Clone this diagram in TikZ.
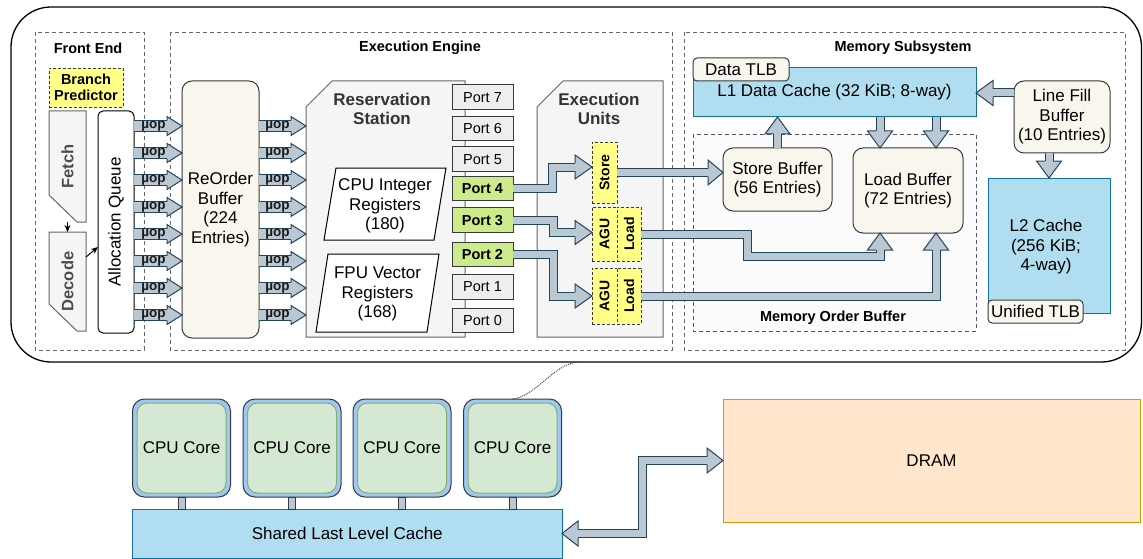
\documentclass[tikz,border=0pt]{standalone}
\usepackage{fontspec}
\setmainfont{Liberation Sans}
\usetikzlibrary{calc,arrows.meta}

\definecolor{flexfill}{HTML}{BAC8D3}
\definecolor{flexline}{HTML}{23445D}
\definecolor{darkline}{HTML}{36393D}
\definecolor{groupline}{HTML}{666666}
\definecolor{portgraycol}{HTML}{EEEEEE}
\definecolor{portgreencol}{HTML}{CDEB8B}
\definecolor{beige}{HTML}{F9F7ED}
\definecolor{panelfill}{HTML}{F5F5F5}
\definecolor{panelline}{HTML}{666666}
\definecolor{paneltext}{HTML}{333333}
\definecolor{stagetextcol}{HTML}{4D4D4D}
\definecolor{notefill}{HTML}{FFFF88}
\definecolor{cachefill}{HTML}{B1DDF0}
\definecolor{cacheline}{HTML}{10739E}
\definecolor{mobline}{HTML}{56517E}
\definecolor{mobfill}{HTML}{FBFBFB}
\definecolor{coreblue}{HTML}{A0C6F2}
\definecolor{coregreen}{HTML}{D5E8D4}
\definecolor{coregreenline}{HTML}{82B366}
\definecolor{dramfill}{HTML}{FFE6CC}
\definecolor{dramline}{HTML}{D79B00}
\definecolor{uoptext}{HTML}{1A1A1A}

\newcommand{\txtbig}{\fontsize{17}{19.5}\selectfont}
\newcommand{\txtmid}{\fontsize{14.5}{17}\selectfont}
\newcommand{\txtuop}{\fontsize{13.5}{15}\selectfont\bfseries}

% arrow head of a wide "flex" arrow: tip, direction, body half width, head half width, head length
\newcommand{\flexhead}[5]{%
  \begin{scope}[shift={#1},rotate=#2]
    \fill[flexfill] (0,0) -- (-#5,#4) -- (-#5,-#4) -- cycle;
    \draw[flexline,line width=1pt,line join=miter] (-#5,#3) -- (-#5,#4) -- (0,0) -- (-#5,-#4) -- (-#5,-#3);
  \end{scope}}

\begin{document}
\begin{tikzpicture}[x=1pt,y=-1pt,
  every node/.style={inner sep=0pt,outer sep=0pt,font=\txtbig,text=black,align=center},
  group/.style={draw=groupline,dash pattern=on 4pt off 3pt,line width=0.9pt},
  sectiontitle/.style={font=\txtmid\bfseries},
  note/.style={draw=darkline,fill=notefill,dash pattern=on 3pt off 2pt,line width=0.9pt},
  stage/.style={draw=panelline,fill=panelfill,line width=1pt},
  stagetext/.style={font=\fontsize{16.5}{19}\selectfont\bfseries,text=stagetextcol,rotate=90},
  queue/.style={draw=black,fill=white,rounded corners=5pt,line width=1pt},
  beigebox/.style={draw=darkline,fill=beige,rounded corners=10pt,line width=1pt},
  panel/.style={draw=panelline,fill=panelfill,line width=1pt},
  paneltitle/.style={font=\txtbig\bfseries,text=paneltext},
  regs/.style={draw=black,fill=white,line width=1pt},
  portidle/.style={draw=darkline,fill=portgraycol,minimum width=61pt,minimum height=24.5pt,font=\txtmid,line width=1pt},
  portlive/.style={portidle,fill=portgreencol,font=\txtmid\bfseries},
  unitbox/.style={note,minimum width=25pt},
  unittext/.style={font=\fontsize{14}{16}\selectfont\bfseries,rotate=90},
  cachebox/.style={draw=cacheline,fill=cachefill,line width=1pt},
  tlb/.style={draw=darkline,fill=beige,rounded corners=4pt,line width=1pt},
  mob/.style={draw=mobline,fill=mobfill,dash pattern=on 4pt off 3pt,line width=0.9pt},
  uop/.style={font=\txtuop,text=uoptext},
  flexbody/.style={draw=flexline,line width=1pt,double=flexfill,double distance=#1,line join=miter,line cap=butt},
  flexbody/.default=7pt,
  coreshell/.style={draw=darkline,fill=coreblue,rounded corners=12pt,line width=1pt,minimum width=98pt,minimum height=98pt},
  corebody/.style={draw=coregreenline,fill=coregreen,rounded corners=10pt,line width=1pt,minimum width=89pt,minimum height=90pt},
  bar/.style={draw=darkline,fill=flexfill,line width=1pt},
  thinarrow/.style={draw=black,line width=1pt,-{Stealth[length=7pt,width=6pt]}}
]
\useasboundingbox (0,0) rectangle (1143,559);

% ---------------- one core ----------------
\draw[line width=1.3pt,rounded corners=40pt] (11,7) rectangle (1141.5,362);

\draw[group] (35,32) rectangle (144,350);
\draw[group] (170,32) rectangle (672,350);
\draw[group] (684,32) rectangle (1125,350);
\node[sectiontitle] (fetitle) at (88,48) {Front End};
\node[sectiontitle] (eetitle) at (420,48) {Execution Engine};
\node[sectiontitle] (mstitle) at (903,48) {Memory Subsystem};

% front end
\node[note,minimum width=74pt,minimum height=39pt,font=\txtmid\bfseries] (bp) at (86,87.5) {Branch\\[-0.5pt]Predictor};

\node[minimum width=37pt,minimum height=111pt] (fetch) at (67.5,166.5) {};
\draw[stage] (fetch.north west) -- (fetch.north east) -- (fetch.south east)
  -- ($(fetch.south west)+(28,0)$) -- ($(fetch.south west)+(0,-27)$) -- cycle;
\node[stagetext] (fetchlabel) at (fetch.center) {Fetch};

\node[minimum width=37pt,minimum height=99pt] (decode) at (67.5,281.5) {};
\draw[stage] (decode.north west) -- (decode.north east) -- (decode.south east)
  -- ($(decode.south west)+(28,0)$) -- ($(decode.south west)+(0,-27)$) -- cycle;
\node[stagetext] (decodelabel) at (decode.center) {Decode};

\node[queue,minimum width=36pt,minimum height=222pt] (aq) at (116,222) {};
\node[rotate=90] (aqlabel) at (aq.center) {Allocation Queue};

\draw[thinarrow] (fetch.south) -- (decode.north);
\draw[thinarrow] ($(decode.north east)+(0,25)$) -- ($(aq.west)+(0,25)$);

% execution engine
\node[beigebox,minimum width=77pt,minimum height=257pt] (rob) at (220.5,209.5) {ReOrder\\Buffer\\(224\\Entries)};

\node[minimum width=159pt,minimum height=256pt] (rs) at (385.5,209) {};
\draw[panel] ($(rs.north west)+(26,0)$) -- (rs.north east) -- (rs.south east) -- (rs.south west)
  -- ($(rs.north west)+(0,26)$) -- cycle;
\node[paneltitle] (rstitle) at (382,109) {Reservation\\Station};

\node[minimum width=122pt,minimum height=72pt] (intreg) at (385,204) {};
\draw[regs] ($(intreg.north west)+(12,0)$) -- (intreg.north east) -- ($(intreg.south east)+(-12,0)$)
  -- (intreg.south west) -- cycle;
\node (intreglabel) at (385,206) {CPU Integer\\Registers\\(180)};

\node[minimum width=123pt,minimum height=78pt] (fpreg) at (377.5,293) {};
\draw[regs] ($(fpreg.north west)+(12,0)$) -- (fpreg.north east) -- ($(fpreg.south east)+(-12,0)$)
  -- (fpreg.south west) -- cycle;
\node (fpreglabel) at (377.5,294) {FPU Vector\\Registers\\(168)};

\node[minimum width=126pt,minimum height=256pt] (eu) at (600,209) {};
\draw[panel] ($(eu.north west)+(26,0)$) -- (eu.north east) -- (eu.south east) -- (eu.south west)
  -- ($(eu.north west)+(0,26)$) -- cycle;
\node[paneltitle] (eutitle) at (599,109) {Execution\\Units};

\foreach \n/\y in {7/97.2,6/128.3,5/159.2,1/287,0/320.5}
  \node[portidle] (p\n) at (482.5,\y) {Port \n};
\foreach \n/\y in {4/188.7,3/220.2,2/254.5}
  \node[portlive] (p\n) at (482.5,\y) {Port \n};

\node[unitbox,minimum height=61pt] (store) at (604.5,172.5) {};
\node[unittext] (storelabel) at (store.center) {Store};
\node[unitbox,minimum height=54pt] (agua) at (604.5,234) {};
\node[unittext] (agualabel) at (agua.center) {AGU};
\node[unitbox,minimum width=24pt,minimum height=54pt] (loada) at (629,234) {};
\node[unittext] (loadalabel) at (loada.center) {Load};
\node[unitbox,minimum height=56pt] (agub) at (604.5,296) {};
\node[unittext] (agublabel) at (agub.center) {AGU};
\node[unitbox,minimum width=24pt,minimum height=56pt] (loadb) at (629,296) {};
\node[unittext] (loadblabel) at (loadb.center) {Load};

% micro-op streams
\foreach \i/\y in {1/126,2/153,3/180,4/207,5/234,6/261,7/288,8/315} {
  \coordinate (row\i) at (0,\y);
  \draw[flexbody=10pt] (aq.east |- row\i) -- ($(rob.west |- row\i)+(-14,0)$);
  \flexhead{(rob.west |- row\i)}{0}{5.5}{9.5}{15}
  \node[uop] (uopa\i) at ($(aq.east |- row\i)+(19.5,0)$) {µop};
  \draw[flexbody=10pt] (rob.east |- row\i) -- ($(rs.west |- row\i)+(-14,0)$);
  \flexhead{(rs.west |- row\i)}{0}{5.5}{9.5}{15}
  \node[uop] (uopb\i) at ($(rob.east |- row\i)+(18.5,0)$) {µop};
}

% ports to execution units
\draw[flexbody] (p4.east) -- ($(p4.east)+(39.5,0)$) |- ($(store.west)+(-16,-5.5)$);
\flexhead{($(store.west)+(0,-5.5)$)}{0}{4}{12}{17}
\draw[flexbody] (p3.east) -- ($(p3.east)+(40.5,0)$) |- ($(agua.west)+(-16,-1.5)$);
\flexhead{($(agua.west)+(0,-1.5)$)}{0}{4}{12}{17}
\draw[flexbody] (p2.east) -- ($(p2.east)+(40.5,0)$) |- ($(agub.west)+(-16,0)$);
\flexhead{(agub.west)}{0}{4}{12}{17}

% memory subsystem
\node[cachebox,minimum width=283pt,minimum height=49pt] (l1) at (834.5,92.5) {L1 Data Cache (32 KiB; 8-way)};
\node[tlb,minimum width=96pt,minimum height=23pt] (dtlb) at (741,69.5) {Data TLB};
\draw[mob] (693,134) rectangle (976,331);
\node[sectiontitle] (mobtitle) at (833,318) {Memory Order Buffer};
\node[beigebox,minimum width=109pt,minimum height=63pt] (sb) at (777.5,179.5) {Store Buffer\\(56 Entries)};
\node[beigebox,minimum width=110pt,minimum height=85pt] (lb) at (908,190.5) {Load Buffer\\(72 Entries)};
\node[beigebox,minimum width=96pt,minimum height=72pt] (lfb) at (1062,117) {Line Fill\\Buffer\\(10 Entries)};
\node[cachebox,minimum width=122pt,minimum height=135pt] (l2) at (1049,245.5) {};
\node (l2label) at (1046,247) {L2 Cache\\(256 KiB;\\4-way)};
\node[tlb,minimum width=95pt,minimum height=23pt] (utlb) at (1035.5,311.5) {Unified TLB};

% execution units to buffers
\draw[flexbody] (store.east) -- ($(sb.west |- store.east)+(-14,0)$);
\flexhead{(sb.west |- store.east)}{0}{4}{12.5}{15}
\coordinate (jogA) at (747,256.5);
\draw[flexbody] (loada.east) -| (jogA) -| ($(lb.south)+(-28,16)$);
\flexhead{($(lb.south)+(-28,0)$)}{90}{4}{12.5}{17}
\draw[flexbody] (loadb.east) -| ($(lb.south)+(28,16)$);
\flexhead{($(lb.south)+(28,0)$)}{90}{4}{12.5}{17}

% buffers and caches
\draw[flexbody] (sb.north) -- ($(sb.north |- l1.south)+(0,16)$);
\flexhead{(sb.north |- l1.south)}{90}{4}{12.5}{17}
\coordinate (lbA) at ($(lb.north)+(-28,0)$);
\coordinate (lbB) at ($(lb.north)+(28,0)$);
\draw[flexbody] (lbA |- l1.south) -- ($(lbA)+(0,-16)$);
\flexhead{(lbA)}{270}{4}{12.5}{17}
\draw[flexbody] (lbB |- l1.south) -- ($(lbB)+(0,-16)$);
\flexhead{(lbB)}{270}{4}{12.5}{17}
\coordinate (lfin) at ($(lfb.north west)+(0,12)$);
\draw[flexbody] (lfin) -- ($(l1.east |- lfin)+(16,0)$);
\flexhead{(l1.east |- lfin)}{180}{4}{12.5}{17}
\draw[flexbody] (l2.north |- lfb.south) -- ($(l2.north)+(0,-16)$);
\flexhead{(l2.north)}{270}{4}{12.5}{17}

% ---------------- whole chip ----------------
\foreach \k/\x in {1/181.5,2/292,3/402,4/512.5} {
  \node[coreshell] (core\k) at (\x,448) {};
  \node[corebody] (corein\k) at (\x,448) {CPU Core};
}
\node[cachebox,minimum width=429.5pt,minimum height=49pt] (llc) at (347.25,533.5) {Shared Last Level Cache};
\foreach \k in {1,2,3,4}
  \draw[bar] ($(core\k.south)+(-3.5,0)$) rectangle ($(core\k.south |- llc.north)+(3.5,0)$);

\node[draw=dramline,fill=dramfill,line width=1pt,minimum width=417pt,minimum height=123pt] (dram) at (931.5,460.5) {DRAM};

\coordinate (jogB) at (642.5,500);
\draw[flexbody] ($(llc.east)+(15,0)$) -- (llc.east -| jogB) -- (jogB |- dram.west) -- ($(dram.west)+(-15,0)$);
\flexhead{(llc.east)}{180}{4}{12.5}{16}
\flexhead{(dram.west)}{0}{4}{12.5}{16}

% link from one core to its detailed view
\coordinate (framebot) at (578,362);
\draw[draw=black!80,line width=0.9pt,dash pattern=on 1pt off 1pt] (core4.north) .. controls (537,396) and (553,364) .. (framebot);
\end{tikzpicture}
\end{document}
